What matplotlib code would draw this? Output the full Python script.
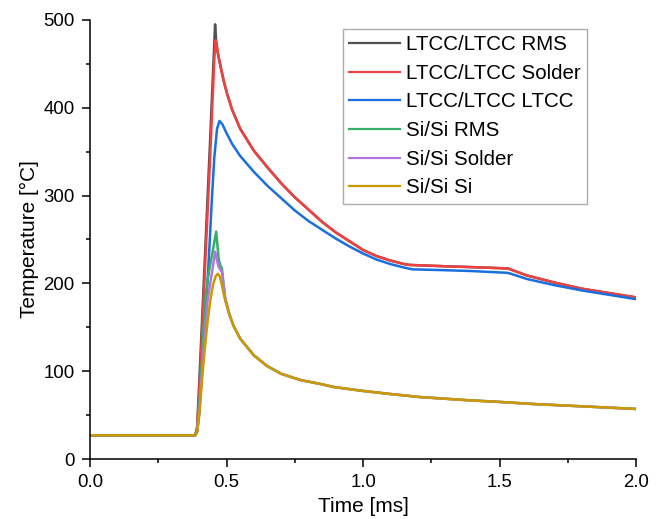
import numpy as np
import matplotlib
matplotlib.use("Agg")
import matplotlib.pyplot as plt
from matplotlib.ticker import MultipleLocator

plt.rcParams['font.family'] = ['Liberation Sans', 'DejaVu Sans']

# values (time in ms, temperature in degC)
# LTCC/LTCC stack
ltcc_tail_t = [0.48, 0.49, 0.50, 0.52, 0.55, 0.60, 0.65, 0.70, 0.75, 0.80, 0.85, 0.90, 0.95,
               1.00, 1.05, 1.10, 1.15, 1.17, 1.30, 1.40, 1.53, 1.60, 1.70, 1.80, 1.90, 2.00]
ltcc_solder_tail = [444, 430, 418, 398, 376, 351, 332, 314, 298, 284, 270, 258, 248,
                    238, 231, 226, 222, 221, 219.5, 218.5, 217, 209, 201, 194, 189, 184]

ltcc_rms_t = [0.0, 0.385, 0.392, 0.40, 0.42, 0.44, 0.452, 0.458, 0.463, 0.47]
ltcc_rms = [27, 27, 36, 88, 225, 365, 452, 495, 470, 459]

ltcc_solder_t = [0.0, 0.385, 0.392, 0.40, 0.42, 0.44, 0.455, 0.46, 0.465, 0.47]
ltcc_solder = [27, 27, 33, 75, 210, 345, 455, 477, 470, 459]

ltcc_ltcc_t = [0.0, 0.385, 0.392, 0.40, 0.42, 0.44, 0.446, 0.455, 0.465, 0.474, 0.485,
               0.50, 0.52, 0.55, 0.60, 0.65, 0.70, 0.75, 0.80, 0.85, 0.90, 0.95,
               1.00, 1.05, 1.10, 1.15, 1.18, 1.30, 1.40, 1.53, 1.60, 1.70, 1.80, 1.90, 2.00]
ltcc_ltcc = [27, 27, 31, 52, 142, 258, 295, 343, 376, 385, 381,
             371, 359, 345, 327, 311, 297, 283, 271, 261, 251, 242,
             234, 227, 222, 218, 216, 215, 214, 212, 205, 198, 192, 187, 182]

# Si/Si stack
si_tail_t = [0.51, 0.525, 0.55, 0.587, 0.60, 0.648, 0.70, 0.77, 0.85, 0.892,
             1.00, 1.10, 1.21, 1.38, 1.50, 1.625, 1.80, 2.00]
si_tail = [165, 152, 137, 123, 118, 106, 97, 90, 85, 82,
           77.5, 74, 70.5, 67, 65, 62.6, 60, 57]

si_rms_t = [0.0, 0.385, 0.392, 0.40, 0.41, 0.421, 0.43, 0.44, 0.45, 0.462,
            0.471, 0.4765, 0.483, 0.495]
si_rms = [27, 27, 32, 62, 112, 178, 203, 221, 238, 259,
          228, 221, 217, 181]

si_solder_t = [0.0, 0.385, 0.392, 0.40, 0.41, 0.43, 0.44, 0.45, 0.458,
               0.4705, 0.483, 0.495]
si_solder = [27, 27, 31, 56, 100, 180, 200, 219, 236,
             219, 213, 184]

si_si_t = [0.0, 0.385, 0.392, 0.40, 0.41, 0.42, 0.43, 0.44, 0.45, 0.46, 0.468,
           0.475, 0.483, 0.49, 0.50]
si_si = [27, 27, 30, 50, 90, 125, 155, 180, 198, 208, 211,
         208, 198, 187, 176]

labels = ["LTCC/LTCC RMS", "LTCC/LTCC Solder", "LTCC/LTCC LTCC",
          "Si/Si RMS", "Si/Si Solder", "Si/Si Si"]
colors = ["#515151", "#F14040", "#1A6FDF", "#37AD6B", "#B177DE", "#CC9900"]

series = [
    (ltcc_rms_t + ltcc_tail_t, ltcc_rms + ltcc_solder_tail),
    (ltcc_solder_t + ltcc_tail_t, ltcc_solder + ltcc_solder_tail),
    (ltcc_ltcc_t, ltcc_ltcc),
    (si_rms_t + si_tail_t, si_rms + si_tail),
    (si_solder_t + si_tail_t, si_solder + si_tail),
    (si_si_t + si_tail_t, si_si + si_tail),
]

fig = plt.figure(figsize=(6.62, 5.19), dpi=100)
ax = fig.add_axes([0.136, 0.1156, 0.825, 0.846])

for (t, T), c, lab in zip(series, colors, labels):
    ax.plot(t, T, color=c, lw=1.8, label=lab, solid_joinstyle='round')

ax.set_xlim(0, 2.0)
ax.set_ylim(0, 500)
ax.xaxis.set_major_locator(MultipleLocator(0.5))
ax.xaxis.set_minor_locator(MultipleLocator(0.25))
ax.yaxis.set_major_locator(MultipleLocator(100))
ax.yaxis.set_minor_locator(MultipleLocator(50))
ax.set_xticks([0, 0.5, 1.0, 1.5, 2.0])
ax.set_xticklabels(["0.0", "0.5", "1.0", "1.5", "2.0"])

for s in ['top', 'right']:
    ax.spines[s].set_visible(False)
for s in ['left', 'bottom']:
    ax.spines[s].set_linewidth(1.1)
ax.tick_params(which='major', direction='out', length=6, width=1.1, labelsize=13.4, pad=5)
ax.tick_params(which='minor', direction='out', length=3, width=1.1)

ax.set_xlabel("Time [ms]", fontsize=15, labelpad=4)
ax.set_ylabel("Temperature [°C]", fontsize=15, labelpad=3)

leg = ax.legend(loc='upper left', bbox_to_anchor=(343 / 662, 1 - 29 / 519),
                bbox_transform=fig.transFigure, borderaxespad=0,
                fontsize=14.8, frameon=True, fancybox=False,
                handlelength=2.45, handletextpad=0.3, labelspacing=0.47,
                borderpad=0.3)
leg.get_frame().set_edgecolor('#999999')
leg.get_frame().set_linewidth(1.0)
for h in leg.get_lines():
    h.set_linewidth(1.6)

fig.savefig("out.png", dpi=100)
